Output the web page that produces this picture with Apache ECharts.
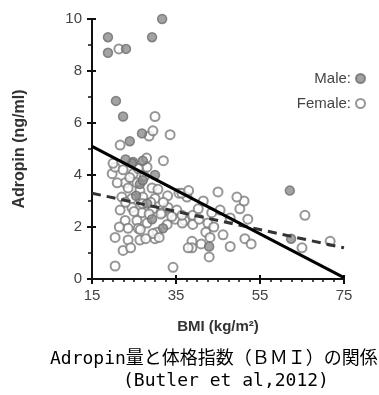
<!DOCTYPE html>
<html>
<head>
<meta charset="utf-8">
<script src="https://cdn.jsdelivr.net/npm/echarts@6/dist/echarts.min.js"></script>
<style>html,body{margin:0;padding:0;background:#fff}#c{width:379px;height:395px}</style>
</head>
<body>
<div id="c"></div>
<script>
// ---- data ----
const xTicks = [15, 35, 55, 75];
const xMinorTicks = [17.5,20,22.5,25,27.5,30,32.5,37.5,40,42.5,45,47.5,50,52.5,57.5,60,62.5,65,67.5,70,72.5];
const yTicks = [0, 2, 4, 6, 8, 10];
const yMinorTicks = [1, 3, 5, 7, 9];

const malePoints = [
  [18.8,9.3],[18.8,8.7],[23.1,8.85],[20.7,6.85],[22.4,6.25],[29.3,9.3],[31.7,10],
  [26.9,5.6],[24,5.3],[24.8,4.5],[27.1,4.55],[24.5,4.45],[26.4,3.65],[27.1,3.8],
  [28.1,2.9],[31.9,1.95],[29.3,2.3],[62.1,3.4],[62.4,1.55],[42.9,1.25],[23,4.6],
  [25.5,3.2],[30,4.0]
];
const femalePoints = [
  [21.4,8.85],[30,6.25],[28.6,5.5],[29.5,5.7],[33.6,5.55],[21.7,5.15],
  [19.8,4.05],[20.5,4.3],[22.4,4.2],[24.8,4.05],[28.1,4.3],[32,4.55],[22.9,3.7],
  [25.7,3.7],[23.6,3.5],[26.4,3.4],[29.3,3.5],[30.7,3.45],[22.1,3.15],[24.5,3.1],
  [27.1,3.15],[30,3.1],[35.7,3.3],[37.6,3.15],[36.4,3.3],[21.7,2.65],[24.5,2.75],
  [26.9,2.55],[29.5,2.7],[31.7,2.55],[33.1,2.75],[35.2,2.65],[22.9,2.25],[25.7,2.25],
  [28.1,2.15],[32.9,2.1],[34.8,2.3],[37.1,2.25],[39,2.45],[39,2.1],[36.5,2.15],
  [42.6,2.15],[42.1,1.8],[43.1,1.6],[38.8,1.45],[38.8,1.2],[37.9,1.2],[42.9,0.85],
  [46.2,1.7],[47.9,1.25],[51.4,1.55],[52.9,1.35],[47.9,2.35],[52.1,2.3],[45.5,2.65],
  [50.2,2.7],[51.2,3.0],[49.5,3.15],[45,3.35],[65.7,2.45],[71.7,1.45],[65,1.2],
  [20.5,0.5],[34.3,0.45],[20.5,1.6],[22.4,1.1],[23.6,1.5],[26.4,1.5],[30,1.55],
  [30.5,1.8],[26,1.95],[23.6,1.95],[29.5,1.75],[31,1.6],[28.6,2.5],[31.4,2.5],
  [40.5,2.3],[38,3.4],[24,3.9],[27.5,3.95],[26,4.25],[21,3.7],[27,2.9],[33,3.2],
  [34,2.4],[25,2.6],[23,2.95],[29,2.95],[32,2.95],[26.5,1.9],[21.5,2.0],[24.2,1.2],
  [27.8,1.55],[40.3,2.7],[41.5,3.0],[43.5,2.55],[44,2.0],[36.4,2.45],[41,1.35],
  [28,4.65],[20,4.45]
];
const maleFit = [[15, 5.1], [75, 0.05]];
const femaleFit = [[15, 3.3], [75, 1.2]];

const captionLine1 = 'Adropin量と体格指数（ＢＭＩ）の関係';
const captionLine2 = '(Butler et al,2012)';

// ---- chart ----
const chart = echarts.init(document.getElementById('c'), null, {renderer: 'canvas'});
const axisCol = '#111';
const labelFont = {fontFamily: 'Liberation Sans, Arial, sans-serif', fontSize: 15, color: '#444'};

function baseX(extra) {
  return Object.assign({
    type: 'value', min: 15, max: 75, position: 'bottom',
    axisLine: {show: false, onZero: false},
    axisLabel: {show: false}, splitLine: {show: false}
  }, extra);
}
function baseY(extra) {
  return Object.assign({
    type: 'value', min: 0, max: 10, position: 'left',
    axisLine: {show: false, onZero: false},
    axisLabel: {show: false}, splitLine: {show: false}
  }, extra);
}

chart.setOption({
  animation: false,
  backgroundColor: '#fff',
  grid: {left: 92, right: 35, top: 19, bottom: 116, containLabel: false},
  legend: [
    {data: ['Male'], right: 8, top: 66, align: 'right', itemWidth: 9, itemHeight: 9, itemGap: 6,
     formatter: '{name}:', textStyle: {fontFamily: 'Liberation Sans, Arial, sans-serif', fontSize: 15, color: '#444'}},
    {data: ['Female'], right: 8, top: 91, align: 'right', itemWidth: 9, itemHeight: 9, itemGap: 6,
     formatter: '{name}:', textStyle: {fontFamily: 'Liberation Sans, Arial, sans-serif', fontSize: 15, color: '#444'}}
  ],
  xAxis: [
    baseX({
      axisLine: {show: true, onZero: false, lineStyle: {color: axisCol, width: 2}},
      axisTick: {show: true, customValues: xTicks, length: 5, lineStyle: {color: axisCol, width: 2}},
      axisLabel: Object.assign({show: true, customValues: xTicks, margin: 9}, labelFont),
      name: 'BMI (kg/m²)', nameLocation: 'middle', nameGap: 40,
      nameTextStyle: {fontFamily: 'Liberation Sans, Arial, sans-serif', fontSize: 15, fontWeight: 'bold', color: '#333'}
    }),
    baseX({axisTick: {show: true, customValues: xMinorTicks, length: 3, lineStyle: {color: axisCol, width: 1.5}}}),
    baseX({axisTick: {show: true, inside: true, customValues: xTicks, length: 4, lineStyle: {color: axisCol, width: 2}}})
  ],
  yAxis: [
    baseY({
      axisLine: {show: true, onZero: false, lineStyle: {color: axisCol, width: 2}},
      axisTick: {show: true, customValues: yTicks, length: 5, lineStyle: {color: axisCol, width: 2}},
      axisLabel: Object.assign({show: true, customValues: yTicks, margin: 10}, labelFont),
      name: 'Adropin (ng/ml)', nameLocation: 'middle', nameGap: 64, nameRotate: 90,
      nameTextStyle: {fontFamily: 'Liberation Sans, Arial, sans-serif', fontSize: 16, fontWeight: 'bold', color: '#333'}
    }),
    baseY({axisTick: {show: true, customValues: yMinorTicks, length: 4, lineStyle: {color: axisCol, width: 1.5}}}),
    baseY({axisTick: {show: true, inside: true, customValues: yTicks, length: 4, lineStyle: {color: axisCol, width: 2}}})
  ],
  series: [
    {name: 'Female', type: 'scatter', data: femalePoints, symbol: 'circle', symbolSize: 9,
     itemStyle: {color: '#fff', borderColor: '#7c7c7c', borderWidth: 2}, z: 3},
    {name: 'Male', type: 'scatter', data: malePoints, symbol: 'circle', symbolSize: 9,
     itemStyle: {color: '#8c8c8c', borderColor: '#6e6e6e', borderWidth: 1.5}, z: 4},
    {name: 'Female fit', type: 'line', data: femaleFit, showSymbol: false, symbol: 'none',
     lineStyle: {color: '#333', width: 3, type: [9, 6]}, z: 5},
    {name: 'Male fit', type: 'line', data: maleFit, showSymbol: false, symbol: 'none',
     lineStyle: {color: '#000', width: 3}, z: 6}
  ],
  graphic: [
    {type: 'text', left: 50, top: 350, style: {text: captionLine1,
      font: '18px "DejaVu Sans Mono", "Noto Sans CJK JP", monospace', fill: '#000'}},
    {type: 'text', left: 123, top: 372, style: {text: captionLine2,
      font: '18px "DejaVu Sans Mono", "Noto Sans CJK JP", monospace', fill: '#000'}}
  ]
});
</script>
</body>
</html>
